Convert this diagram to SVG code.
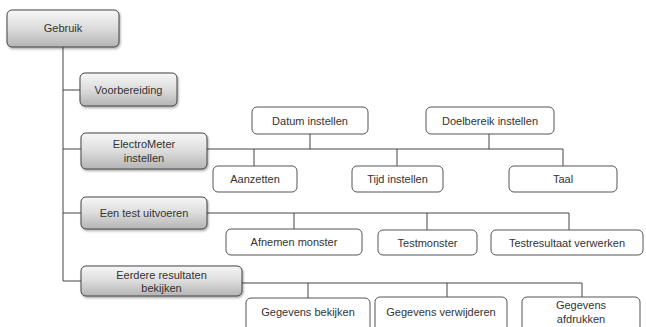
<svg xmlns="http://www.w3.org/2000/svg" width="646" height="327" viewBox="0 0 646 327">
<defs>
<linearGradient id="g" x1="0" y1="0" x2="0" y2="1">
<stop offset="0" stop-color="#f7f7f7"/>
<stop offset="0.5" stop-color="#dcdcdc"/>
<stop offset="1" stop-color="#b4b4b4"/>
</linearGradient>
<filter id="sh" x="-10%" y="-10%" width="130%" height="140%">
<feDropShadow dx="1" dy="1.5" stdDeviation="1" flood-color="#000" flood-opacity="0.35"/>
</filter>
</defs>
<style>
.gb{fill:url(#g);stroke:#444;stroke-width:1;filter:url(#sh)}
.wb{fill:#fff;stroke:#555;stroke-width:1}
.t{font-family:"Liberation Sans",Arial,sans-serif;font-size:11px;fill:#333;text-anchor:middle}
.c{fill:none;stroke:#444;stroke-width:1}
</style>
<rect width="646" height="327" fill="#fff"/>
<g id="connectors">
<path class="c" d="M63 47 V281 M63 90 H80 M63 149 H81 M63 213 H81 M63 281 H81"/>
<path class="c" d="M207 149 H563 M310 134 V149 M489 134 V149 M254 149 V166 M397 149 V166 M563 149 V166"/>
<path class="c" d="M207 213 H569 M294 213 V229 M427 213 V230 M569 213 V230"/>
<path class="c" d="M242 283 H582 M308 283 V298 M447 283 V297 M582 283 V297"/>
</g>
<g id="gebruik"><rect class="gb" x="7" y="10" width="112" height="37" rx="5"/><text class="t" x="63" y="32">Gebruik</text></g>
<g id="voorbereiding"><rect class="gb" x="80" y="73" width="97" height="33" rx="5"/><text class="t" x="128.5" y="93.5">Voorbereiding</text></g>
<g id="electrometer"><rect class="gb" x="81" y="133" width="126" height="36" rx="5"/><text class="t" x="144" y="147.5">ElectroMeter</text><text class="t" x="144" y="161.5">instellen</text></g>
<g id="datum"><rect class="wb" x="252" y="107" width="116" height="27" rx="5"/><text class="t" x="310" y="124.5">Datum instellen</text></g>
<g id="doelbereik"><rect class="wb" x="426" y="107" width="128" height="27" rx="5"/><text class="t" x="490" y="124.5">Doelbereik instellen</text></g>
<g id="aanzetten"><rect class="wb" x="213" y="166" width="84" height="26" rx="5"/><text class="t" x="255" y="183">Aanzetten</text></g>
<g id="tijd"><rect class="wb" x="352" y="166" width="91" height="26" rx="5"/><text class="t" x="397.5" y="183">Tijd instellen</text></g>
<g id="taal"><rect class="wb" x="509" y="166" width="108" height="26" rx="5"/><text class="t" x="563" y="183">Taal</text></g>
<g id="eentest"><rect class="gb" x="81" y="197" width="126" height="32" rx="5"/><text class="t" x="144" y="216.5">Een test uitvoeren</text></g>
<g id="afnemen"><rect class="wb" x="226" y="229" width="136" height="26" rx="5"/><text class="t" x="294" y="246">Afnemen monster</text></g>
<g id="testmonster"><rect class="wb" x="378" y="230" width="99" height="25" rx="5"/><text class="t" x="427.5" y="246.5">Testmonster</text></g>
<g id="testresultaat"><rect class="wb" x="491" y="230" width="152" height="25" rx="5"/><text class="t" x="567" y="246.5">Testresultaat verwerken</text></g>
<g id="eerdere"><rect class="gb" x="81" y="266" width="161" height="30" rx="5"/><text class="t" x="161.5" y="278.5">Eerdere resultaten</text><text class="t" x="161.5" y="292">bekijken</text></g>
<g id="bekijken"><rect class="wb" x="246" y="298" width="124" height="34" rx="5"/><text class="t" x="308" y="316">Gegevens bekijken</text></g>
<g id="verwijderen"><rect class="wb" x="375" y="297" width="132" height="35" rx="5"/><text class="t" x="441" y="316">Gegevens verwijderen</text></g>
<g id="afdrukken"><rect class="wb" x="522" y="297" width="118" height="35" rx="5"/><text class="t" x="581" y="309">Gegevens</text><text class="t" x="581" y="323">afdrukken</text></g>
</svg>
